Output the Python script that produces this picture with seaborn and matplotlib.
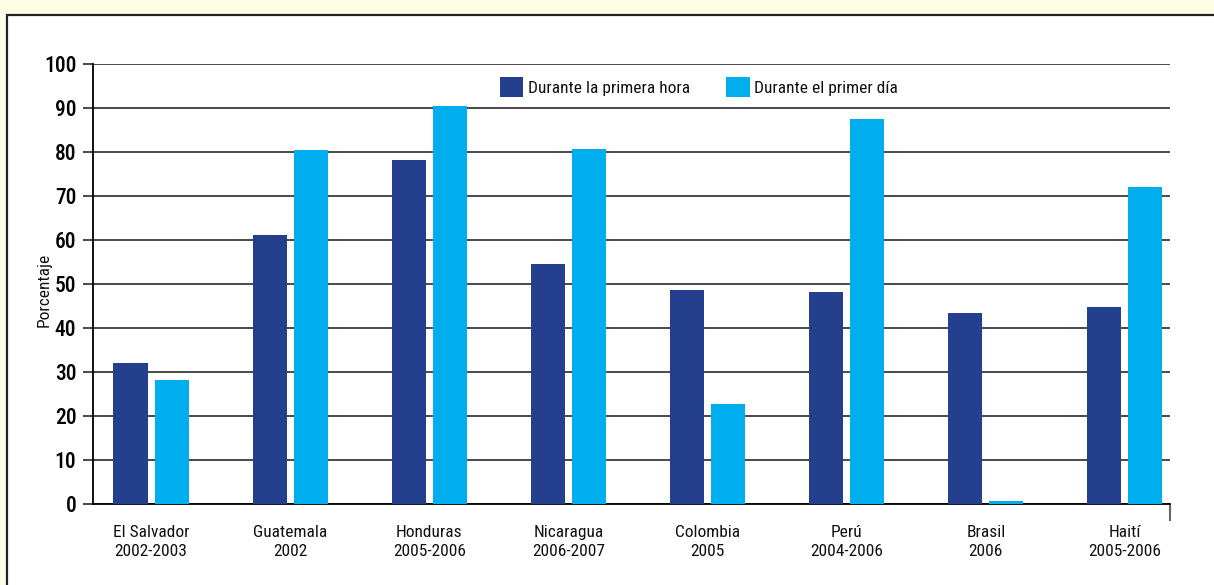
import matplotlib
matplotlib.use("Agg")
import matplotlib.pyplot as plt
from matplotlib.patches import Rectangle
from matplotlib import font_manager
import seaborn as sns
import pandas as pd

paises = ["El Salvador\n2002-2003", "Guatemala\n2002", "Honduras\n2005-2006",
          "Nicaragua\n2006-2007", "Colombia\n2005", "Perú\n2004-2006",
          "Brasil\n2006", "Haití\n2005-2006"]
primera_hora = [32.0, 61.1, 78.2, 54.5, 48.6, 48.2, 43.3, 44.8]
primer_dia = [28.2, 80.5, 90.5, 80.7, 22.7, 87.5, 0.6, 72.0]
series = ["Durante la primera hora", "Durante el primer día"]
colores = ["#233F8D", "#00AEEF"]
yticks = list(range(0, 101, 10))

df = pd.DataFrame({
    "pais": paises * 2,
    "serie": [series[0]] * len(paises) + [series[1]] * len(paises),
    "valor": primera_hora + primer_dia,
})

sns.set_theme(style="white")
nombres = {f.name for f in font_manager.fontManager.ttflist}
candidatas = ["Roboto Condensed", "Noto Sans Condensed", "Open Sans Condensed",
              "Liberation Sans Narrow", "DejaVu Sans Condensed",
              "Noto Sans SemiCondensed", "Open Sans SemiCondensed", "Liberation Sans"]
familia = [f for f in candidatas if f in nombres][:1] + ["DejaVu Sans"]
plt.rcParams["font.family"] = familia

W, H = 1214, 585
fig = plt.figure(figsize=(W / 100, H / 100), dpi=100)
fig.patch.set_facecolor("#FFFDE6")

# white panel with a dark border on top and left
panel = Rectangle((7 / W, -0.1), 1.2, (H - 15) / H + 0.1, transform=fig.transFigure,
                  facecolor="white", edgecolor="#222222", linewidth=1.6, zorder=-5)
fig.patches.append(panel)

ax = fig.add_axes([93 / W, (H - 504) / H, (1170 - 93) / W, 440 / H])
ax.set_zorder(2)
ax.set_facecolor("none")

sns.barplot(data=df, x="pais", y="valor", hue="serie", hue_order=series,
            palette=colores, width=0.59, gap=0.17, saturation=1,
            errorbar=None, ax=ax, zorder=5, linewidth=0)

ax.set_ylim(0, 100)
ax.set_xlim(-0.417, 7.324)
ax.set_yticks(yticks)
ax.yaxis.grid(True, color="#3a3a3a", linewidth=1.3, zorder=0)
ax.set_axisbelow(True)

for s in ["top", "right"]:
    ax.spines[s].set_visible(False)
for s in ["left", "bottom"]:
    ax.spines[s].set_color("black")
    ax.spines[s].set_linewidth(1.3)
    ax.spines[s].set_zorder(4)

ax.tick_params(axis="y", which="major", left=True, length=7, width=1.3,
               color="#3a3a3a", labelsize=15.5, pad=5, labelcolor="black")
for lbl in ax.get_yticklabels():
    lbl.set_fontweight("medium")
ax.tick_params(axis="x", which="major", bottom=False, labelsize=12.5, pad=9,
               labelcolor="#111111")
ax.set_xticks(ax.get_xticks())
ax.set_xticklabels(paises, linespacing=1.35)
ax.set_xticks([7.324], minor=True)
ax.tick_params(axis="x", which="minor", bottom=True, length=12, width=1.5,
               color="#666666")

ax.set_xlabel("")
ax.set_ylabel("Porcentaje", fontsize=12.5, color="#111111")
ax.yaxis.set_label_coords(-0.038, 0.486)

leg = ax.legend(loc="center", bbox_to_anchor=(0.5625, 0.948), ncol=2, frameon=False,
                fontsize=12.5, handlelength=1.35, handleheight=1.35,
                handletextpad=0.25, columnspacing=2.1, borderaxespad=0)
for t in leg.get_texts():
    t.set_color("#111111")

fig.savefig("out.png", dpi=100, facecolor=fig.get_facecolor())
